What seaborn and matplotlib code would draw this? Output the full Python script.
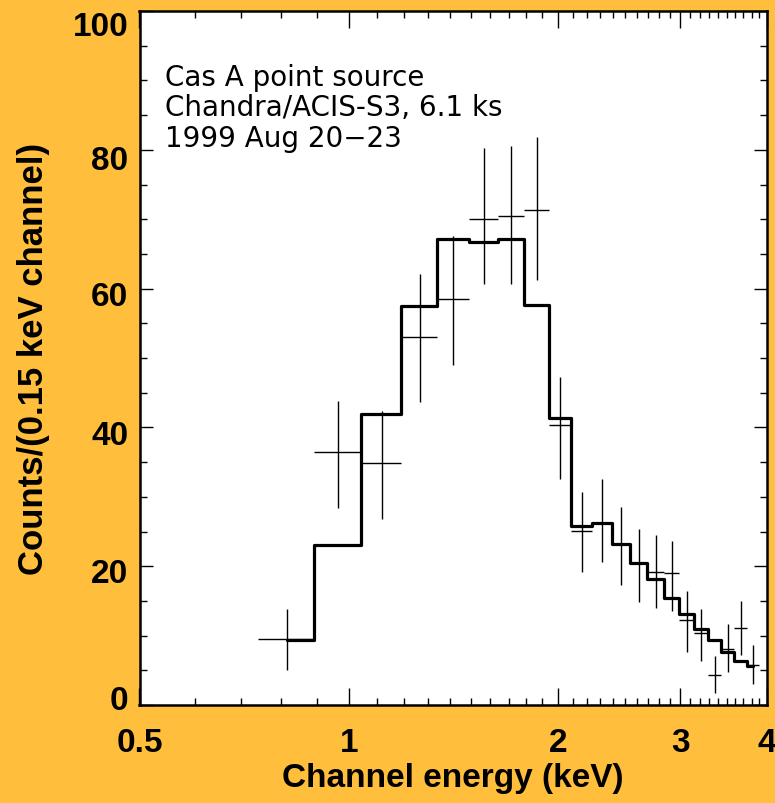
import numpy as np
import matplotlib
matplotlib.use("Agg")
import matplotlib.pyplot as plt
import matplotlib.ticker as mticker
import matplotlib.transforms as mtrans
import seaborn as sns
import pandas as pd

# ---- data ----
energy = [0.815, 0.965, 1.115, 1.265, 1.415, 1.565, 1.715, 1.865, 2.015, 2.165,
          2.315, 2.465, 2.615, 2.765, 2.915, 3.065, 3.215, 3.365, 3.515, 3.665, 3.815]
half_width = 0.075
model = [9.4, 23.0, 42.0, 57.5, 67.1, 66.7, 67.1, 57.6, 41.3, 25.8,
         26.2, 23.2, 20.4, 18.1, 15.4, 13.1, 11.0, 9.3, 7.6, 6.4, 5.6]
counts = [9.5, 36.5, 34.8, 53.0, 58.5, 70.1, 70.4, 71.3, 40.3, 25.1,
          26.2, 23.2, 20.4, 19.2, 19.0, 12.2, 10.4, 4.3, 8.1, 11.1, 5.7]
err_lo = [5.0, 28.4, 26.8, 43.7, 49.0, 60.6, 60.6, 61.3, 32.6, 19.2,
          20.6, 17.3, 14.9, 14.0, 13.6, 7.6, 6.3, 1.8, 4.8, 7.2, 3.0]
err_hi = [13.9, 43.8, 42.3, 62.1, 67.6, 80.2, 80.5, 81.9, 47.3, 30.7,
          32.6, 28.5, 25.4, 24.5, 23.7, 16.4, 13.9, 7.1, 11.6, 15.0, 8.7]
x_ticks = [0.5, 1, 2, 3, 4]
x_ticklabels = ["0.5", "1", "2", "3", "4"]
y_ticks = [0, 20, 40, 60, 80, 100]
notes = ["Cas A point source", "Chandra/ACIS-S3, 6.1 ks", "1999 Aug 20\u221223"]

df = pd.DataFrame({"energy": energy, "model": model, "counts": counts,
                   "lo": err_lo, "hi": err_hi})

sns.set_style("ticks")
plt.rcParams["font.family"] = ["Liberation Sans", "DejaVu Sans"]
for k in ["text.color", "axes.labelcolor", "xtick.color", "ytick.color",
          "xtick.labelcolor", "ytick.labelcolor", "axes.edgecolor"]:
    plt.rcParams[k] = "black"

BG = "#FFBE3C"
fig = plt.figure(figsize=(7.75, 8.04), dpi=100, facecolor=BG)
ax = fig.add_axes([139.5 / 775, 98 / 804, (767 - 139.5) / 775, (706 - 12) / 804])
ax.set_facecolor("white")

# model spectrum as histogram steps
sns.lineplot(data=df, x="energy", y="model", ax=ax, color="black", lw=2.3,
             drawstyle="steps-mid", sort=True, estimator=None)

# data points with error crosses
yerr = np.vstack([df["counts"] - df["lo"], df["hi"] - df["counts"]])
ax.errorbar(df["energy"], df["counts"], xerr=half_width, yerr=yerr, fmt="none",
            ecolor="black", elinewidth=1.0, capsize=0)

ax.set_xscale("log")
ax.set_xlim(0.5, 4)
ax.set_ylim(0, 100)

ax.xaxis.set_major_locator(mticker.FixedLocator(x_ticks))
ax.xaxis.set_major_formatter(mticker.FixedFormatter(x_ticklabels))
ax.xaxis.set_minor_locator(mticker.FixedLocator(
    [v / 10 for v in range(6, 40) if v % 10 != 0]))
ax.xaxis.set_minor_formatter(mticker.NullFormatter())
ax.yaxis.set_major_locator(mticker.FixedLocator(y_ticks))
ax.yaxis.set_minor_locator(mticker.MultipleLocator(5))

for s in ax.spines.values():
    s.set_linewidth(1.8)
    s.set_color("black")
    s.set_visible(True)

ax.tick_params(axis="both", which="both", direction="in", top=True, right=True,
               color="black", labelcolor="black", width=1.0)
ax.tick_params(axis="x", which="major", length=12, pad=16)
ax.tick_params(axis="x", which="minor", length=5)
ax.tick_params(axis="y", which="major", length=9.5, pad=8)
ax.tick_params(axis="y", which="minor", length=5)

tick_font = dict(family=["Liberation Sans", "DejaVu Sans"], weight="bold", size=24)
for lab in ax.get_xticklabels() + ax.get_yticklabels():
    lab.set_fontproperties(matplotlib.font_manager.FontProperties(**tick_font))
    lab.set_color("black")

# small vertical nudges of the y labels (pixels), as in the reference
y_offsets = [8, -4, -5, -4, -7, -12]
for lab, off in zip(ax.get_yticklabels(), y_offsets):
    lab.set_transform(lab.get_transform() +
                      mtrans.ScaledTranslation(0, off / 100, fig.dpi_scale_trans))

ax.set_xlabel("Channel energy (keV)", fontsize=24, fontweight="bold", color="black")
ax.set_ylabel("Counts/(0.15 keV channel)", fontsize=25, fontweight="bold", color="black")
ax.xaxis.set_label_coords(0.5, -0.082)
ax.yaxis.set_label_coords(-0.142, 0.5)

base_y = [0.893, 0.850, 0.806]
for txt, yy in zip(notes, base_y):
    ax.text(0.0406, yy, txt, transform=ax.transAxes, ha="left", va="baseline",
            fontsize=20, family="DejaVu Sans", color="black")

fig.savefig("out.png", dpi=100, facecolor=BG)
